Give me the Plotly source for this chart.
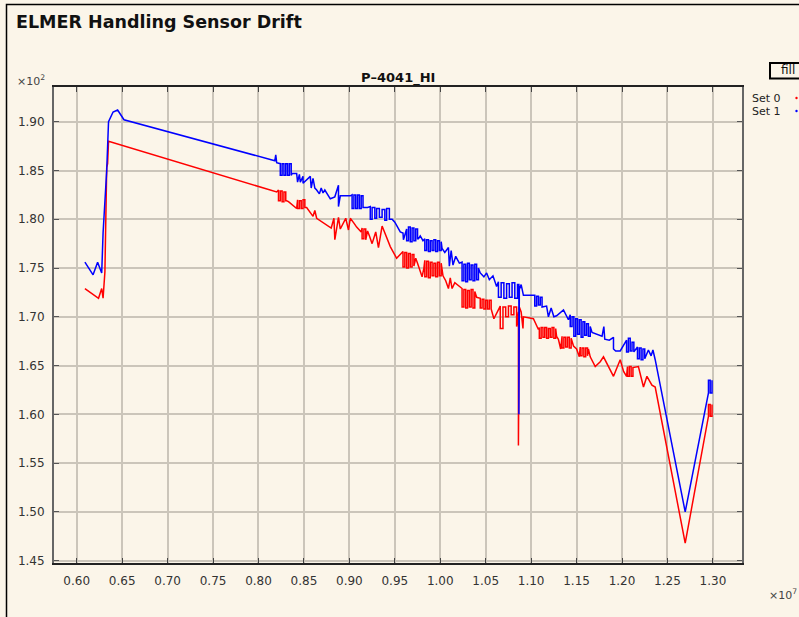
import plotly.graph_objects as go

# ---- data: (x in units of 1e7, y in units of 1e2) ----
set1_points = [
    (0.609, 1.756), (0.618, 1.743), (0.623, 1.756), (0.6275, 1.745), (0.629, 1.786),
    (0.633, 1.850), (0.635, 1.900), (0.640, 1.910), (0.645, 1.912), (0.652, 1.902),
    (0.818, 1.860), (0.819, 1.866), (0.820, 1.858),
    (0.824, 1.857), (0.824, 1.845), (0.826, 1.845), (0.826, 1.857), (0.828, 1.857), (0.828, 1.845),
    (0.830, 1.845), (0.830, 1.857), (0.832, 1.857), (0.832, 1.845), (0.834, 1.845), (0.834, 1.857),
    (0.836, 1.857), (0.836, 1.845), (0.837, 1.847),
    (0.842, 1.847), (0.843, 1.838), (0.845, 1.846), (0.846, 1.838), (0.849, 1.844), (0.849, 1.837),
    (0.857, 1.844), (0.858, 1.832), (0.860, 1.842), (0.862, 1.832),
    (0.864, 1.830), (0.867, 1.826), (0.869, 1.832), (0.871, 1.827), (0.873, 1.830),
    (0.879, 1.821), (0.884, 1.823), (0.888, 1.835), (0.888, 1.813), (0.889, 1.822), (0.890, 1.824),
    (0.901, 1.824),
    (0.903, 1.825), (0.903, 1.811), (0.905, 1.811), (0.905, 1.825), (0.907, 1.825), (0.907, 1.811),
    (0.909, 1.811), (0.909, 1.825), (0.911, 1.825), (0.911, 1.811), (0.913, 1.811), (0.913, 1.824),
    (0.915, 1.824), (0.915, 1.812),
    (0.920, 1.812),
    (0.923, 1.813), (0.923, 1.800), (0.925, 1.800), (0.925, 1.812), (0.928, 1.812), (0.928, 1.801),
    (0.930, 1.801), (0.930, 1.811), (0.933, 1.811), (0.933, 1.802), (0.936, 1.802), (0.936, 1.810),
    (0.939, 1.810), (0.939, 1.799), (0.941, 1.799), (0.941, 1.811), (0.944, 1.811), (0.944, 1.800),
    (0.947, 1.800),
    (0.950, 1.797), (0.956, 1.787), (0.959, 1.786), (0.9595, 1.779),
    (0.963, 1.790), (0.963, 1.778), (0.965, 1.778), (0.965, 1.792), (0.967, 1.792), (0.967, 1.777),
    (0.969, 1.777), (0.969, 1.791), (0.971, 1.791), (0.971, 1.778), (0.973, 1.778), (0.973, 1.790),
    (0.975, 1.790), (0.975, 1.780), (0.976, 1.780),
    (0.978, 1.783), (0.981, 1.778),
    (0.983, 1.780), (0.983, 1.768), (0.985, 1.768), (0.985, 1.779), (0.987, 1.779), (0.987, 1.767),
    (0.989, 1.767), (0.989, 1.778), (0.991, 1.778), (0.991, 1.768), (0.993, 1.768), (0.993, 1.779),
    (0.995, 1.779), (0.995, 1.767), (0.997, 1.767), (0.997, 1.778), (0.999, 1.778), (0.999, 1.768),
    (1.001, 1.768), (1.001, 1.777), (1.002, 1.770),
    (1.005, 1.766), (1.009, 1.771), (1.010, 1.752), (1.012, 1.768), (1.014, 1.753), (1.017, 1.762),
    (1.021, 1.755),
    (1.024, 1.756), (1.024, 1.737), (1.026, 1.737), (1.026, 1.754), (1.028, 1.754), (1.028, 1.736),
    (1.030, 1.736), (1.030, 1.755), (1.032, 1.755), (1.032, 1.738), (1.034, 1.738), (1.034, 1.753),
    (1.036, 1.753), (1.036, 1.737), (1.038, 1.737), (1.038, 1.754), (1.040, 1.754), (1.040, 1.738),
    (1.042, 1.738), (1.042, 1.750), (1.044, 1.745),
    (1.048, 1.741), (1.051, 1.745), (1.054, 1.738), (1.058, 1.742), (1.062, 1.731),
    (1.064, 1.736), (1.064, 1.720), (1.067, 1.720), (1.067, 1.735), (1.070, 1.735), (1.070, 1.719),
    (1.073, 1.719), (1.073, 1.734), (1.076, 1.734), (1.076, 1.720), (1.079, 1.720), (1.079, 1.735),
    (1.082, 1.735), (1.082, 1.719), (1.085, 1.719), (1.085, 1.733),
    (1.0865, 1.733), (1.0865, 1.600), (1.087, 1.728), (1.089, 1.733), (1.0915, 1.722),
    (1.1025, 1.722),
    (1.104, 1.722), (1.104, 1.711), (1.106, 1.711), (1.106, 1.721), (1.108, 1.721), (1.108, 1.712),
    (1.110, 1.712), (1.110, 1.720), (1.112, 1.720), (1.112, 1.710), (1.115, 1.711),
    (1.117, 1.711), (1.119, 1.700), (1.122, 1.709), (1.125, 1.700), (1.128, 1.701),
    (1.1356, 1.707), (1.141, 1.697),
    (1.143, 1.702), (1.143, 1.690), (1.145, 1.690), (1.145, 1.700), (1.147, 1.700), (1.147, 1.680),
    (1.149, 1.680), (1.149, 1.698), (1.151, 1.698), (1.151, 1.682), (1.153, 1.682), (1.153, 1.697),
    (1.155, 1.697), (1.155, 1.679), (1.157, 1.679), (1.157, 1.695), (1.159, 1.695), (1.159, 1.681),
    (1.161, 1.681), (1.161, 1.693), (1.163, 1.693), (1.163, 1.680), (1.165, 1.680), (1.165, 1.690),
    (1.167, 1.684),
    (1.172, 1.682), (1.178, 1.680), (1.180, 1.690), (1.181, 1.677), (1.186, 1.676), (1.1906, 1.679),
    (1.1906, 1.667), (1.193, 1.665), (1.198, 1.665),
    (1.205, 1.676), (1.205, 1.664), (1.207, 1.664), (1.207, 1.678), (1.209, 1.678), (1.209, 1.665),
    (1.211, 1.665), (1.211, 1.674), (1.213, 1.674), (1.213, 1.664),
    (1.216, 1.668),
    (1.217, 1.669), (1.217, 1.657), (1.219, 1.657), (1.219, 1.668), (1.221, 1.668), (1.221, 1.656),
    (1.223, 1.656), (1.223, 1.667), (1.225, 1.667), (1.225, 1.657),
    (1.229, 1.666), (1.232, 1.660), (1.234, 1.666), (1.2365, 1.656),
    (1.2695, 1.500),
    (1.2951, 1.622), (1.2951, 1.635), (1.297, 1.635), (1.297, 1.622), (1.299, 1.622), (1.299, 1.635),
]

set0_points = [
    (0.609, 1.729), (0.624, 1.719), (0.6275, 1.729), (0.629, 1.719), (0.631, 1.746),
    (0.633, 1.853), (0.634, 1.857), (0.635, 1.880),
    (0.820, 1.828),
    (0.822, 1.830), (0.822, 1.819), (0.824, 1.819), (0.824, 1.829), (0.826, 1.829), (0.826, 1.818),
    (0.828, 1.818), (0.828, 1.828), (0.830, 1.828), (0.830, 1.819), (0.831, 1.819),
    (0.833, 1.818), (0.842, 1.811),
    (0.843, 1.820), (0.843, 1.811), (0.845, 1.811), (0.845, 1.819), (0.847, 1.819), (0.847, 1.811),
    (0.849, 1.811), (0.849, 1.820), (0.851, 1.820), (0.851, 1.812), (0.853, 1.812),
    (0.860, 1.803), (0.862, 1.809), (0.864, 1.801),
    (0.880, 1.791), (0.883, 1.801), (0.884, 1.779), (0.886, 1.791),
    (0.888, 1.802), (0.890, 1.790), (0.896, 1.801), (0.899, 1.789), (0.901, 1.801), (0.905, 1.796),
    (0.908, 1.792), (0.913, 1.787),
    (0.914, 1.791), (0.914, 1.780), (0.916, 1.780), (0.916, 1.790), (0.918, 1.790), (0.918, 1.779),
    (0.920, 1.788),
    (0.922, 1.783), (0.925, 1.775), (0.929, 1.787), (0.932, 1.771), (0.936, 1.793), (0.939, 1.786),
    (0.945, 1.772), (0.952, 1.760),
    (0.959, 1.767), (0.959, 1.751), (0.961, 1.751), (0.961, 1.766), (0.963, 1.766), (0.963, 1.750),
    (0.965, 1.750), (0.965, 1.765), (0.967, 1.765), (0.967, 1.751), (0.969, 1.751), (0.969, 1.764),
    (0.971, 1.764), (0.971, 1.752), (0.973, 1.760),
    (0.975, 1.755), (0.980, 1.741), (0.982, 1.750),
    (0.983, 1.758), (0.983, 1.741), (0.985, 1.741), (0.985, 1.757), (0.987, 1.757), (0.987, 1.740),
    (0.989, 1.740), (0.989, 1.756), (0.991, 1.756), (0.991, 1.742), (0.993, 1.742), (0.993, 1.755),
    (0.995, 1.755), (0.995, 1.741), (0.997, 1.741), (0.997, 1.756), (0.999, 1.756), (0.999, 1.742),
    (1.001, 1.742), (1.001, 1.755), (1.003, 1.742),
    (1.006, 1.737), (1.009, 1.729), (1.011, 1.740), (1.013, 1.729), (1.016, 1.735), (1.021, 1.731),
    (1.024, 1.729), (1.024, 1.710), (1.026, 1.710), (1.026, 1.728), (1.028, 1.728), (1.028, 1.709),
    (1.030, 1.709), (1.030, 1.727), (1.032, 1.727), (1.032, 1.710), (1.034, 1.710), (1.034, 1.728),
    (1.036, 1.728), (1.036, 1.709), (1.038, 1.709), (1.038, 1.726), (1.040, 1.720),
    (1.044, 1.719), (1.044, 1.709), (1.046, 1.709), (1.046, 1.718), (1.048, 1.718), (1.048, 1.708),
    (1.050, 1.708), (1.050, 1.717), (1.052, 1.717), (1.052, 1.708), (1.054, 1.708), (1.054, 1.717),
    (1.056, 1.717), (1.056, 1.708),
    (1.059, 1.698), (1.063, 1.705),
    (1.066, 1.711), (1.066, 1.688), (1.069, 1.688), (1.069, 1.710), (1.072, 1.710), (1.072, 1.700),
    (1.075, 1.700), (1.075, 1.711), (1.078, 1.711), (1.078, 1.702), (1.081, 1.702), (1.081, 1.710),
    (1.084, 1.710), (1.084, 1.690),
    (1.086, 1.705), (1.086, 1.568), (1.087, 1.710), (1.089, 1.705), (1.091, 1.688),
    (1.0915, 1.700), (1.1025, 1.698), (1.108, 1.687),
    (1.109, 1.689), (1.109, 1.678), (1.111, 1.678), (1.111, 1.689), (1.113, 1.689), (1.113, 1.679),
    (1.115, 1.679), (1.115, 1.689), (1.117, 1.689), (1.117, 1.678), (1.119, 1.678), (1.119, 1.688),
    (1.121, 1.688), (1.121, 1.679), (1.123, 1.679), (1.123, 1.689), (1.125, 1.689), (1.125, 1.678),
    (1.127, 1.678), (1.127, 1.688), (1.128, 1.680),
    (1.130, 1.677), (1.1325, 1.667),
    (1.134, 1.680), (1.134, 1.668), (1.136, 1.668), (1.136, 1.679), (1.138, 1.679), (1.138, 1.669),
    (1.140, 1.669), (1.140, 1.679), (1.142, 1.679), (1.142, 1.668), (1.144, 1.668), (1.144, 1.678),
    (1.1466, 1.670),
    (1.150, 1.667), (1.153, 1.659),
    (1.154, 1.669), (1.154, 1.660), (1.156, 1.660), (1.156, 1.668), (1.158, 1.668), (1.158, 1.659),
    (1.160, 1.659), (1.160, 1.668), (1.162, 1.668), (1.162, 1.660), (1.163, 1.667),
    (1.165, 1.659), (1.1705, 1.649), (1.176, 1.654), (1.1796, 1.659), (1.1906, 1.639), (1.198, 1.656),
    (1.2017, 1.644), (1.205, 1.639),
    (1.206, 1.649), (1.206, 1.639), (1.208, 1.639), (1.208, 1.649), (1.210, 1.649), (1.210, 1.639),
    (1.212, 1.639), (1.212, 1.648),
    (1.218, 1.649), (1.2236, 1.628), (1.2274, 1.639), (1.2329, 1.630), (1.2365, 1.628),
    (1.2695, 1.468),
    (1.2951, 1.598), (1.2951, 1.610), (1.297, 1.610), (1.297, 1.598), (1.299, 1.598), (1.299, 1.610),
]

set0_x = [p[0] for p in set0_points]
set0_y = [p[1] for p in set0_points]
set1_x = [p[0] for p in set1_points]
set1_y = [p[1] for p in set1_points]

x_ticks = [0.60, 0.65, 0.70, 0.75, 0.80, 0.85, 0.90, 0.95, 1.00, 1.05, 1.10, 1.15, 1.20, 1.25, 1.30]
y_ticks = [1.45, 1.50, 1.55, 1.60, 1.65, 1.70, 1.75, 1.80, 1.85, 1.90]
x_range = [0.575, 1.332]
y_range = [1.4476, 1.9356]

# ---- layout geometry (pixels) ----
W, H = 799, 617
L, R, T, B = 54, 57, 87, 54
PW, PH = W - L - R, H - T - B


def px(xp):
    return (xp - L) / PW


def py(yp):
    return (H - B - yp) / PH


BG = "#fbf5e9"
GRID = "#cbc5ba"
FONT = "DejaVu Sans"

fig = go.Figure()
fig.add_trace(go.Scatter(x=set0_x, y=set0_y, mode="lines", name="Set 0",
                         line=dict(color="#ff0000", width=1.5)))
fig.add_trace(go.Scatter(x=set1_x, y=set1_y, mode="lines", name="Set 1",
                         line=dict(color="#0000ff", width=1.5)))

axis_common = dict(showgrid=True, gridcolor=GRID, gridwidth=1.5, zeroline=False,
                   ticks="inside", ticklen=5, mirror="allticks", showline=True,
                   tickfont=dict(family=FONT, size=12, color="#333333"))

fig.update_xaxes(range=x_range, tickvals=x_ticks, tickformat=".2f",
                 linecolor="#222222", linewidth=1.5, tickcolor="#444444",
                 ticklabelstandoff=6, **axis_common)
fig.update_yaxes(range=y_range, tickvals=y_ticks, tickformat=".2f",
                 linecolor="#666666", linewidth=2, tickcolor="#555555",
                 ticklabelstandoff=5, **axis_common)

annotations = [
    dict(text="<b>ELMER Handling Sensor Drift</b>", x=px(14), y=py(22),
         xanchor="left", yanchor="middle",
         font=dict(family=FONT, size=17.5, color="#111111")),
    dict(text="<b>P–4041_HI</b>", x=px(398.5), y=py(78), xanchor="center", yanchor="middle",
         font=dict(family=FONT, size=13, color="#111111")),
    dict(text="×10<sup>2</sup>", x=px(15), y=py(80), xanchor="left", yanchor="middle",
         font=dict(family=FONT, size=11, color="#444444")),
    dict(text="×10<sup>7</sup>", x=px(767), y=py(594), xanchor="left", yanchor="middle",
         font=dict(family=FONT, size=11, color="#444444")),
    dict(text="fill", x=px(779), y=py(70.5), xanchor="left", yanchor="middle",
         font=dict(family=FONT, size=12, color="#111111")),
    dict(text="Set 0", x=px(750), y=py(98), xanchor="left", yanchor="middle",
         font=dict(family=FONT, size=11, color="#222222")),
    dict(text="Set 1", x=px(750), y=py(111), xanchor="left", yanchor="middle",
         font=dict(family=FONT, size=11, color="#222222")),
]
for a in annotations:
    a.update(xref="paper", yref="paper", showarrow=False)

shapes = [
    # outer frame
    dict(type="rect", xref="paper", yref="paper", x0=px(6.5), x1=px(840), y0=py(4.5), y1=py(660),
         line=dict(color="#000000", width=1.5)),
    # fill button
    dict(type="rect", xref="paper", yref="paper", x0=px(770), x1=px(820), y0=py(63), y1=py(78.5),
         line=dict(color="#000000", width=2), fillcolor=BG, layer="below"),
    # legend colour dots
    dict(type="circle", xref="paper", yref="paper", x0=px(795.3), x1=px(797.7), y0=py(96.8), y1=py(99.2),
         line=dict(width=0), fillcolor="#ff0000"),
    dict(type="circle", xref="paper", yref="paper", x0=px(795.3), x1=px(797.7), y0=py(109.8), y1=py(112.2),
         line=dict(width=0), fillcolor="#0000ff"),
]

fig.update_layout(width=W, height=H, margin=dict(l=L, r=R, t=T, b=B, pad=0),
                  paper_bgcolor=BG, plot_bgcolor=BG, showlegend=False,
                  annotations=annotations, shapes=shapes,
                  font=dict(family=FONT))

fig.write_html("out.html")
